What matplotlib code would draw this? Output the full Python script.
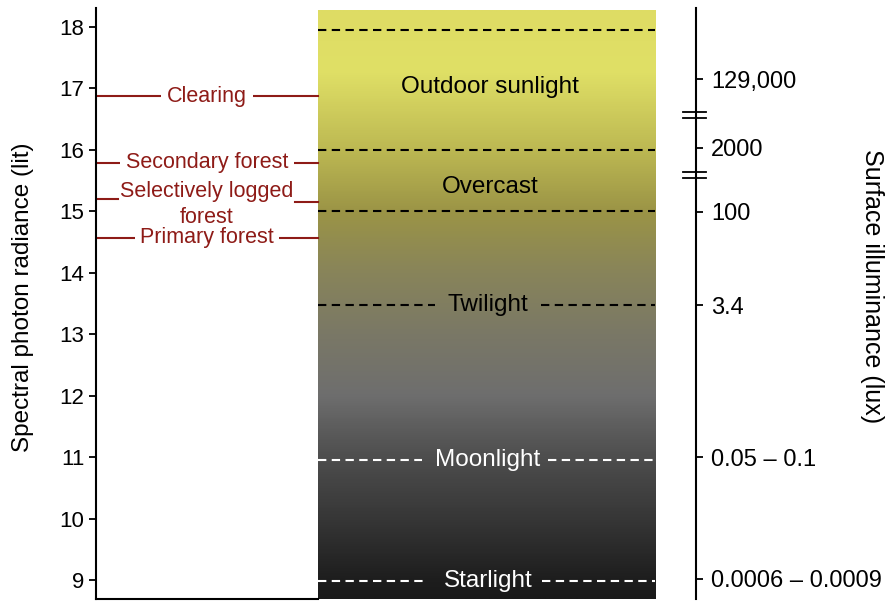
import matplotlib.pyplot as plt
import numpy as np
from matplotlib.colors import LinearSegmentedColormap

plt.rcParams['font.family'] = ['Liberation Sans', 'DejaVu Sans']

# radiance scale (left axis)
radiance_ticks = [9, 10, 11, 12, 13, 14, 15, 16, 17, 18]

# habitat light levels
habitats = ['Clearing', 'Secondary forest', 'Selectively logged\nforest', 'Primary forest']
habitat_levels = [16.87, 15.79, 15.2, 14.57]

# illuminance conditions inside the band
conditions = ['Outdoor sunlight', 'Overcast', 'Twilight', 'Moonlight', 'Starlight']
condition_levels = [17.02, 15.4, 13.48, 10.95, 8.98]
boundaries = [17.95, 16.0, 15.0]

# lux scale (right axis)
lux_pos = [17.15, 16.03, 14.99, 13.47, 11.0, 9.02]
lux_labels = ['129,000', '2000', '100', '3.4', '0.05 – 0.1', '0.0006 – 0.0009']
break_pos = [16.57, 15.59]

# colour stops of the sky band (radiance, rgb)
band_stops = [8.69, 9.0, 10.0, 11.0, 12.0, 13.0, 14.0, 15.0, 16.0, 17.3, 18.27]
band_rgb = [(25, 25, 25), (30, 30, 30), (55, 55, 55), (78, 78, 78), (110, 110, 110),
            (122, 120, 102), (136, 132, 90), (155, 148, 70), (188, 184, 82),
            (224, 224, 102), (222, 220, 100)]

ymin, ymax = 8.69, 18.31
bx0, bx1, btop = 0.37, 0.932, 18.27

fig = plt.figure(figsize=(8.93, 6.01), dpi=100)
ax = fig.add_axes([0.1075, 0.003, 0.672, 0.984])
ax.set_xlim(0, 1)
ax.set_ylim(ymin, ymax)

# gradient band
stops = [(v - ymin) / (btop - ymin) for v in band_stops]
cmap = LinearSegmentedColormap.from_list(
    'sky', list(zip(stops, [tuple(c / 255 for c in rgb) for rgb in band_rgb])))
grad = np.linspace(0, 1, 500).reshape(-1, 1)
ax.imshow(grad, cmap=cmap, extent=[bx0, bx1, ymin, btop], origin='lower',
          aspect='auto', interpolation='bilinear', zorder=0)

dash = (0, (4, 2.6))
for b in boundaries:
    ax.plot([bx0, bx1], [b, b], color='black', lw=1.5, ls=dash)

# condition labels; the lower three sit on dashed lines with a gap
ax.text(0.657, condition_levels[0], conditions[0], ha='center', va='center', fontsize=17.5)
ax.text(0.657, condition_levels[1], conditions[1], ha='center', va='center', fontsize=17.5)
gaps = {2: (0.565, 0.742, 'black'), 3: (0.543, 0.754, 'white'), 4: (0.545, 0.743, 'white')}
for i, (g0, g1, col) in gaps.items():
    y = condition_levels[i]
    ax.plot([bx0, g0], [y, y], color=col, lw=1.5, ls=dash)
    ax.plot([g1, bx1], [y, y], color=col, lw=1.5, ls=dash)
    ax.text(0.653, y, conditions[i], ha='center', va='center', fontsize=17.5, color=col)

# habitat markers on the left
red = '#8e1b17'
for name, lvl in zip(habitats, habitat_levels):
    if '\n' in name:
        ax.plot([0, 0.037], [lvl, lvl], color=red, lw=1.5)
        ax.plot([0.332, bx0], [lvl - 0.05, lvl - 0.05], color=red, lw=1.5)
        ax.text(0.185, lvl - 0.09, name, ha='center', va='center', fontsize=15.5,
                color=red, linespacing=1.3)
    else:
        ax.plot([0, bx0], [lvl, lvl], color=red, lw=1.5, zorder=1)
        ax.text(0.185, lvl, name, ha='center', va='center', fontsize=15.5, color=red,
                bbox=dict(facecolor='white', edgecolor='none', pad=4), zorder=2)

ax.set_yticks(radiance_ticks)
ax.tick_params(axis='y', labelsize=16, length=5, width=1.3, direction='out')
ax.set_xticks([])
ax.set_ylabel('Spectral photon radiance (lit)', fontsize=17.5)
ax.yaxis.set_label_coords(-0.103, 0.51)
for side in ['top', 'right']:
    ax.spines[side].set_visible(False)
ax.spines['left'].set_linewidth(1.5)
ax.spines['bottom'].set_linewidth(1.5)
ax.spines['bottom'].set_bounds(0, bx0)

# lux axis
ax2 = ax.twinx()
ax2.set_ylim(ymin, ymax)
ax2.set_yticks(lux_pos)
ax2.set_yticklabels(lux_labels)
ax2.tick_params(axis='y', labelsize=17, length=5, width=1.3, direction='out', pad=6)
ax2.set_ylabel('Surface illuminance (lux)', fontsize=18, rotation=270)
ax2.yaxis.set_label_coords(1.313, 0.53)
for side in ['top', 'left', 'bottom']:
    ax2.spines[side].set_visible(False)
ax2.spines['right'].set_linewidth(1.5)

# axis break marks
for bp in break_pos:
    for off in (-0.045, 0.045):
        ax2.plot([0.978, 1.017], [bp + off, bp + off], color='black', lw=1.3,
                 clip_on=False, transform=ax2.get_yaxis_transform())

fig.savefig('out.png', dpi=100)
